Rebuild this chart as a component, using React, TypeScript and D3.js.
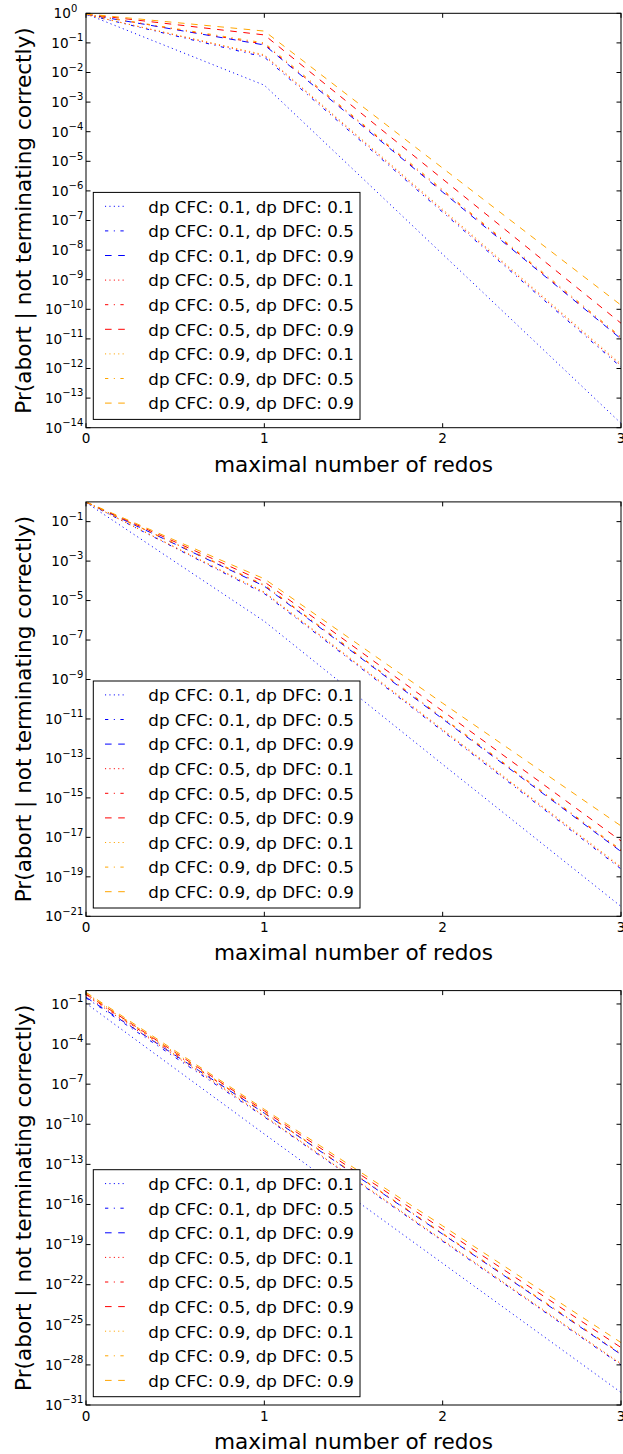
import React from "react";
import * as d3 from "d3";

// ---------------- data ----------------
const X_VALUES = [0, 1, 2, 3];
const X_TICKS = [0, 1, 2, 3];

const SERIES_LABELS = [
  "dp CFC: 0.1, dp DFC: 0.1",
  "dp CFC: 0.1, dp DFC: 0.5",
  "dp CFC: 0.1, dp DFC: 0.9",
  "dp CFC: 0.5, dp DFC: 0.1",
  "dp CFC: 0.5, dp DFC: 0.5",
  "dp CFC: 0.5, dp DFC: 0.9",
  "dp CFC: 0.9, dp DFC: 0.1",
  "dp CFC: 0.9, dp DFC: 0.5",
  "dp CFC: 0.9, dp DFC: 0.9",
];

// values at x = 0, 1, 2, 3 for each series (legend order)
const PANEL1_VALUES = [
  [0.955, 3.72e-3, 7.24e-9, 1.41e-14],
  [0.912, 3.31e-2, 1.91e-7, 1.12e-12],
  [0.933, 8.51e-2, 9.12e-7, 1.0e-11],
  [0.912, 3.72e-2, 2.14e-7, 1.26e-12],
  [0.933, 9.12e-2, 1.0e-6, 1.07e-11],
  [0.933, 1.86e-1, 2.51e-6, 3.39e-11],
  [0.912, 3.98e-2, 2.4e-7, 1.41e-12],
  [0.933, 1.0e-1, 1.1e-6, 1.17e-11],
  [0.955, 2.51e-1, 5.89e-6, 1.38e-10],
];

const PANEL2_VALUES = [
  [0.933, 8.91e-7, 5.01e-14, 3.16e-21],
  [0.955, 2.24e-5, 2.4e-12, 2.51e-19],
  [0.977, 5.37e-5, 1.0e-11, 1.91e-18],
  [0.955, 2.51e-5, 2.69e-12, 2.88e-19],
  [0.977, 5.75e-5, 1.1e-11, 2.09e-18],
  [0.977, 8.91e-5, 2.51e-11, 6.61e-18],
  [0.955, 2.75e-5, 3.02e-12, 3.31e-19],
  [0.977, 6.31e-5, 1.2e-11, 2.34e-18],
  [1.0, 1.26e-4, 6.31e-11, 3.8e-17],
];

const PANEL3_VALUES = [
  [1.12e-1, 1.86e-11, 3.98e-21, 8.71e-31],
  [2.82e-1, 3.55e-10, 1.78e-19, 1.0e-28],
  [3.16e-1, 6.76e-10, 6.03e-19, 6.03e-28],
  [4.27e-1, 3.98e-10, 2.0e-19, 1.12e-28],
  [5.01e-1, 7.08e-10, 6.31e-19, 6.61e-28],
  [5.62e-1, 1.0e-9, 1.41e-18, 2.0e-27],
  [6.03e-1, 4.27e-10, 2.24e-19, 1.26e-28],
  [6.61e-1, 7.59e-10, 7.08e-19, 7.41e-28],
  [7.41e-1, 1.32e-9, 2.51e-18, 4.68e-27],
];

const PANEL1_TICK_EXPS = [0, -1, -2, -3, -4, -5, -6, -7, -8, -9, -10, -11, -12, -13, -14];
const PANEL2_TICK_EXPS = [-1, -3, -5, -7, -9, -11, -13, -15, -17, -19, -21];
const PANEL3_TICK_EXPS = [-1, -4, -7, -10, -13, -16, -19, -22, -25, -28, -31];

const PANEL1_MIN_EXP = -14;
const PANEL2_MIN_EXP = -21;
const PANEL3_MIN_EXP = -31;

const X_LABEL = "maximal number of redos";
const Y_LABEL = "Pr(abort | not terminating correctly)";

// ---------------- style ----------------
const W = 623;
const H = 1454;
const PLOT_LEFT = 86;
const PLOT_RIGHT = 621;
const PLOT_H = 414.4;
const PANEL_TOPS = [13.3, 501.9, 990.6];
const FONT = "'DejaVu Sans', sans-serif";
const SERIES_COLORS = [
  "#0000ff", "#0000ff", "#0000ff",
  "#ff0000", "#ff0000", "#ff0000",
  "#ffa500", "#ffa500", "#ffa500",
];
const DOT = "1.1,3.3";
const DASHDOT = "3.3,5.5,1.1,5.5";
const DASH = "6.6,6.6";
const SERIES_DASHES = [DOT, DASHDOT, DASH, DOT, DASHDOT, DASH, DOT, DASHDOT, DASH];
const TICK_LEN = 4.5;

type PanelProps = {
  idx: number;
  top: number;
  values: number[][];
  minExp: number;
  tickExps: number[];
};

function Panel({ idx, top, values, minExp, tickExps }: PanelProps) {
  const bottom = top + PLOT_H;
  const x = d3.scaleLinear().domain([0, 3]).range([PLOT_LEFT, PLOT_RIGHT]);
  const y = d3.scaleLog().domain([Math.pow(10, minExp), 1]).range([bottom, top]);
  const line = d3
    .line<number>()
    .x((_, i) => x(X_VALUES[i]))
    .y((v) => y(v));
  const clipId = `clip-${idx}`;

  const legLeft = PLOT_LEFT + 7.3;
  const legRight = 360;
  const legBottom = bottom - 8.3;
  const legTop = legBottom - 227;
  const rowStart = legTop + 13.9;
  const rowStep = 24.6;

  return (
    <g>
      <defs>
        <clipPath id={clipId}>
          <rect x={PLOT_LEFT} y={top} width={PLOT_RIGHT - PLOT_LEFT} height={PLOT_H} />
        </clipPath>
      </defs>
      <g clipPath={`url(#${clipId})`}>
        {values.map((vals, i) => (
          <path
            key={i}
            d={line(vals) || ""}
            fill="none"
            stroke={SERIES_COLORS[i]}
            strokeWidth={1}
            strokeDasharray={SERIES_DASHES[i]}
          />
        ))}
      </g>
      {/* frame */}
      <rect
        x={PLOT_LEFT}
        y={top}
        width={PLOT_RIGHT - PLOT_LEFT}
        height={PLOT_H}
        fill="none"
        stroke="#000"
        strokeWidth={1}
      />
      {/* y ticks */}
      {tickExps.map((e) => {
        const yy = y(Math.pow(10, e));
        const anchorX = e === 0 ? 77.3 : 83.3;
        return (
          <g key={`y${e}`}>
            <line x1={PLOT_LEFT} x2={PLOT_LEFT + TICK_LEN} y1={yy} y2={yy} stroke="#000" />
            <line x1={PLOT_RIGHT} x2={PLOT_RIGHT - TICK_LEN} y1={yy} y2={yy} stroke="#000" />
            <text
              x={anchorX}
              y={yy + 4.8}
              textAnchor="end"
              fontFamily={FONT}
              fontSize={13.6}
              fill="#000"
            >
              <tspan>10</tspan>
              <tspan dy={-6.6} fontSize={10}>
                {e === 0 ? "0" : `\u2212${-e}`}
              </tspan>
            </text>
          </g>
        );
      })}
      {/* x ticks */}
      {X_TICKS.map((t) => {
        const xx = x(t);
        return (
          <g key={`x${t}`}>
            <line x1={xx} x2={xx} y1={bottom} y2={bottom - TICK_LEN} stroke="#000" />
            <line x1={xx} x2={xx} y1={top} y2={top + TICK_LEN} stroke="#000" />
            <text
              x={xx}
              y={bottom + 15.6}
              textAnchor="middle"
              fontFamily={FONT}
              fontSize={13.6}
              fill="#000"
            >
              {String(t)}
            </text>
          </g>
        );
      })}
      {/* axis labels */}
      <text
        x={(PLOT_LEFT + PLOT_RIGHT) / 2}
        y={bottom + 44}
        textAnchor="middle"
        fontFamily={FONT}
        fontSize={21.6}
        fill="#000"
      >
        {X_LABEL}
      </text>
      <text
        transform={`translate(31,${top + PLOT_H / 2}) rotate(-90)`}
        textAnchor="middle"
        fontFamily={FONT}
        fontSize={21.6}
        fill="#000"
      >
        {Y_LABEL}
      </text>
      {/* legend */}
      <rect
        x={legLeft}
        y={legTop}
        width={legRight - legLeft}
        height={legBottom - legTop}
        fill="#fff"
        stroke="#000"
        strokeWidth={1}
      />
      {SERIES_LABELS.map((lab, i) => {
        const ry = rowStart + i * rowStep;
        return (
          <g key={`l${i}`}>
            <line
              x1={105}
              x2={126.7}
              y1={ry}
              y2={ry}
              stroke={SERIES_COLORS[i]}
              strokeWidth={1}
              strokeDasharray={SERIES_DASHES[i]}
            />
            <text x={148.3} y={ry + 6.3} fontFamily={FONT} fontSize={16.7} fill="#000">
              {lab}
            </text>
          </g>
        );
      })}
    </g>
  );
}

export default function App() {
  return (
    <svg
      width={W}
      height={H}
      viewBox={`0 0 ${W} ${H}`}
      style={{ position: "absolute", left: 0, top: 0, background: "#fff" }}
    >
      <rect x={0} y={0} width={W} height={H} fill="#fff" />
      <Panel idx={0} top={PANEL_TOPS[0]} values={PANEL1_VALUES} minExp={PANEL1_MIN_EXP} tickExps={PANEL1_TICK_EXPS} />
      <Panel idx={1} top={PANEL_TOPS[1]} values={PANEL2_VALUES} minExp={PANEL2_MIN_EXP} tickExps={PANEL2_TICK_EXPS} />
      <Panel idx={2} top={PANEL_TOPS[2]} values={PANEL3_VALUES} minExp={PANEL3_MIN_EXP} tickExps={PANEL3_TICK_EXPS} />
    </svg>
  );
}
